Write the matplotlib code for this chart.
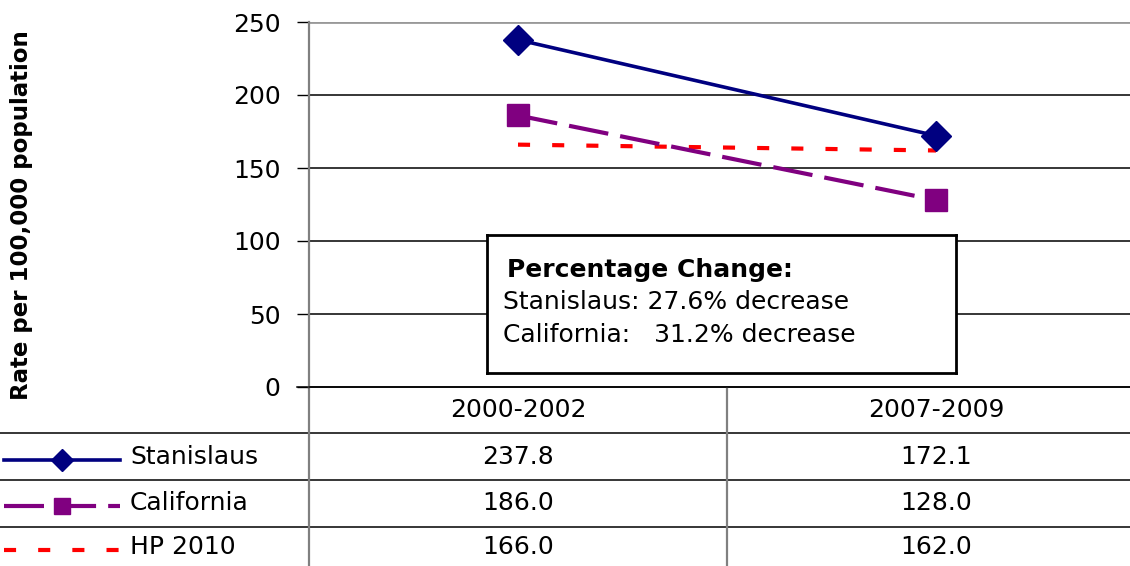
import matplotlib.pyplot as plt
from matplotlib import lines

plt.rcParams['font.family'] = ['DejaVu Sans']

periods = ['2000-2002', '2007-2009']
stanislaus = [237.8, 172.1]
california = [186.0, 128.0]
hp2010 = [166.0, 162.0]
series_names = ['Stanislaus', 'California', 'HP 2010']
change_title = 'Percentage Change:'
change_lines = ['Stanislaus: 27.6% decrease', 'California:   31.2% decrease']
yticks = [0, 50, 100, 150, 200, 250]

W, H = 1130, 566
FS = 18


def px(x0, y0, x1, y1):
    # pixel box (top-left origin) -> figure fraction rect
    return [x0 / W, 1 - y1 / H, (x1 - x0) / W, (y1 - y0) / H]


styles = {
    'Stanislaus': dict(color='#000080', lw=2.6, marker='D', ms=15, ls='-'),
    'California': dict(color='#800080', lw=3, marker='s', ms=16, ls=(0, (9.6, 2.9))),
    'HP 2010': dict(color='#ff0000', lw=3, marker=None, ls=(0, (2.9, 5.3))),
}
values = {'Stanislaus': stanislaus, 'California': california, 'HP 2010': hp2010}

fig = plt.figure(figsize=(W / 100, H / 100), dpi=100)

# background axes in pixel coordinates for the data table grid
tab = fig.add_axes([0, 0, 1, 1])
tab.set_xlim(0, W)
tab.set_ylim(H, 0)
tab.axis('off')

# main plot (extends a bit beyond the right edge like the original)
ax = fig.add_axes(px(309, 22, 1145, 387))
x = list(range(len(periods)))
for name in ['HP 2010', 'California', 'Stanislaus']:
    st = styles[name]
    ax.plot(x, values[name], color=st['color'], lw=st['lw'], ls=st['ls'],
            marker=st['marker'], ms=st.get('ms', 0), dash_capstyle='butt',
            solid_capstyle='butt', clip_on=False, zorder=3)
ax.set_xlim(-0.5, len(periods) - 0.5)
ax.set_ylim(0, 250)
ax.set_yticks(yticks)
ax.set_xticks([])
ax.yaxis.grid(True, color='black', lw=1.1)
ax.get_ygridlines()[-1].set_color('#999999')
ax.get_ygridlines()[-1].set_lw(2)
ax.tick_params(axis='y', length=8.6, width=1, pad=12, labelsize=FS)
for s in ['top', 'right']:
    ax.spines[s].set_visible(False)
ax.spines['left'].set_color('#808080')
ax.spines['left'].set_lw(1.6)
ax.spines['bottom'].set_color('black')
ax.spines['bottom'].set_lw(1.1)

fig.text(22 / W, 1 - 215 / H, 'Rate per 100,000 population', rotation=90,
         fontsize=16.5, fontweight='bold', ha='center', va='center')

# table grid
tab.plot([297, W], [387, 387], color='black', lw=1.1)
for yy in [433, 480, 527]:
    tab.plot([0, W], [yy, yy], color='black', lw=1.1)
tab.plot([309, 309], [387, H], color='#808080', lw=1.6)
tab.plot([727, 727], [387, H], color='#808080', lw=1.6)

col_x = [518, 936]
row_y = [457, 503, 547]
for cx, p in zip(col_x, periods):
    tab.text(cx, 410, p, fontsize=FS, ha='center', va='center')
for ry, name in zip(row_y, series_names):
    st = styles[name]
    tab.add_line(lines.Line2D([4, 120], [ry + 3, ry + 3], color=st['color'],
                              lw=st['lw'], ls=st['ls'], dash_capstyle='butt'))
    if st['marker']:
        tab.plot([62], [ry + 3], marker=st['marker'], color=st['color'],
                 ms=st['ms'] * 0.75, ls='none')
    tab.text(130, ry, name, fontsize=FS, ha='left', va='center')
    for cx, v in zip(col_x, values[name]):
        tab.text(cx, ry, f'{v:.1f}', fontsize=FS, ha='center', va='center')

# percentage change box
box = fig.add_axes(px(487, 235, 956, 373))
box.set_xticks([])
box.set_yticks([])
for s in box.spines.values():
    s.set_lw(2)
    s.set_color('black')
box.text(0.043, 0.746, change_title, fontsize=FS, fontweight='bold',
         ha='left', va='center', transform=box.transAxes)
for i, t in enumerate(change_lines):
    box.text(0.034, 0.514 - i * 0.239, t, fontsize=FS, ha='left', va='center',
             transform=box.transAxes)

plt.savefig('out.png', dpi=100)
